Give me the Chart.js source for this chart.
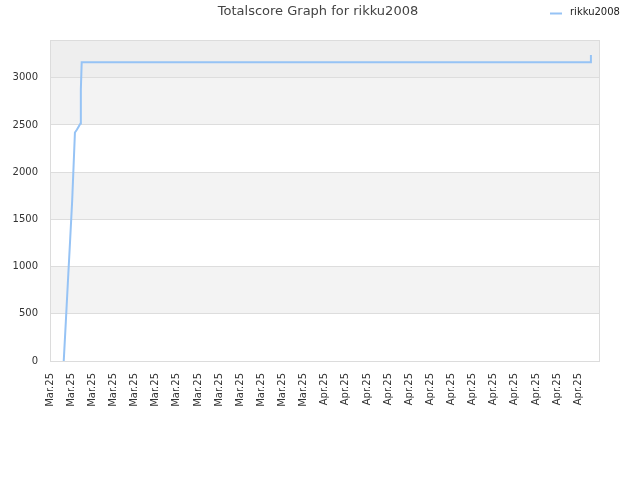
<!DOCTYPE html>
<html>
<head>
<meta charset="utf-8">
<script src="https://cdn.jsdelivr.net/npm/chart.js@4.4.0/dist/chart.umd.min.js"></script>
<style>
html,body{margin:0;padding:0;background:#fff;}
#wrap{width:640px;height:480px;position:relative;}
</style>
</head>
<body>
<div id="wrap"><canvas id="c" width="640" height="480"></canvas></div>
<script>
// Data
const titleText = "Totalscore Graph for rikku2008";
const seriesName = "rikku2008";
const xTickLabels = [
  "Mar.25","Mar.25","Mar.25","Mar.25","Mar.25","Mar.25","Mar.25","Mar.25","Mar.25","Mar.25","Mar.25","Mar.25","Mar.25",
  "Apr.25","Apr.25","Apr.25","Apr.25","Apr.25","Apr.25","Apr.25","Apr.25","Apr.25","Apr.25","Apr.25","Apr.25","Apr.25"
];
const yTickValues = [0, 500, 1000, 1500, 2000, 2500, 3000];
const yMax = 3400;
const xMax = 26.03;
// x positions in tick units, score values
const xPositions = [0.65, 0.75, 0.85, 0.95, 1.05, 1.18, 1.27, 1.36, 1.44, 1.46, 1.50, 25.60, 25.60];
const scores     = [0,    420,  850,  1270, 1700, 2420, 2450, 2485, 2515, 2880, 3165, 3165,  3240];

const lineColor = "rgb(150,195,245)";
const fontFam = "'DejaVu Sans', sans-serif";

const bandsPlugin = {
  id: 'bands',
  beforeDraw(chart) {
    const {ctx, chartArea: a, scales: {y}} = chart;
    ctx.save();
    const fill = (v0, v1, col) => {
      const p0 = y.getPixelForValue(v0), p1 = y.getPixelForValue(v1);
      ctx.fillStyle = col;
      ctx.fillRect(a.left, p1, a.right - a.left, p0 - p1);
    };
    for (let i = 0; i < yTickValues.length; i++) {
      const v0 = yTickValues[i];
      const v1 = i + 1 < yTickValues.length ? yTickValues[i + 1] : yMax;
      if (i === yTickValues.length - 1) fill(v0, v1, '#eeeeee');
      else if (i % 2 === 1) fill(v0, v1, '#f3f3f3');
    }
    ctx.restore();
  },
  afterDraw(chart) {
    const {ctx, chartArea: a} = chart;
    ctx.save();
    ctx.strokeStyle = '#dcdcdc';
    ctx.lineWidth = 1;
    ctx.strokeRect(Math.round(a.left) + 0.5, Math.round(a.top) + 0.5, Math.round(a.right - a.left) - 1, Math.round(a.bottom - a.top));
    // title
    ctx.fillStyle = '#444';
    ctx.font = "13px " + fontFam;
    ctx.textAlign = 'center';
    ctx.textBaseline = 'middle';
    ctx.fillText(titleText, 318, 12);
    // legend
    ctx.strokeStyle = lineColor;
    ctx.lineWidth = 2;
    ctx.beginPath();
    ctx.moveTo(550, 13.5);
    ctx.lineTo(562, 13.5);
    ctx.stroke();
    ctx.fillStyle = '#222';
    ctx.font = "10px " + fontFam;
    ctx.textAlign = 'left';
    ctx.fillText(seriesName, 570, 12);
    ctx.restore();
  }
};

new Chart(document.getElementById('c'), {
  type: 'line',
  data: {
    datasets: [{
      label: seriesName,
      data: xPositions.map((x, i) => ({x: x, y: scores[i]})),
      borderColor: lineColor,
      borderWidth: 2,
      pointRadius: 0,
      tension: 0,
      fill: false
    }]
  },
  options: {
    responsive: false,
    animation: false,
    devicePixelRatio: 1,
    layout: {padding: {top: 40, right: 40, left: 0, bottom: 0}},
    plugins: {legend: {display: false}, title: {display: false}, tooltip: {enabled: false}},
    scales: {
      x: {
        type: 'linear',
        min: 0,
        max: xMax,
        afterBuildTicks: s => { s.ticks = xTickLabels.map((_, i) => ({value: i})); },
        afterFit: s => { s.height = 119; },
        grid: {display: false, drawTicks: false},
        border: {display: false},
        ticks: {
          autoSkip: false,
          maxRotation: 90,
          minRotation: 90,
          padding: 12,
          color: '#333',
          font: {family: fontFam, size: 10},
          callback: (v, i) => xTickLabels[i]
        }
      },
      y: {
        type: 'linear',
        min: 0,
        max: yMax,
        afterBuildTicks: s => { s.ticks = yTickValues.map(v => ({value: v})); },
        afterFit: s => { s.width = 50; },
        grid: {color: '#dddddd', drawTicks: false},
        border: {display: false},
        ticks: {
          padding: 12,
          color: '#333',
          font: {family: fontFam, size: 10},
          callback: v => String(v)
        }
      }
    }
  },
  plugins: [bandsPlugin]
});
</script>
</body>
</html>
